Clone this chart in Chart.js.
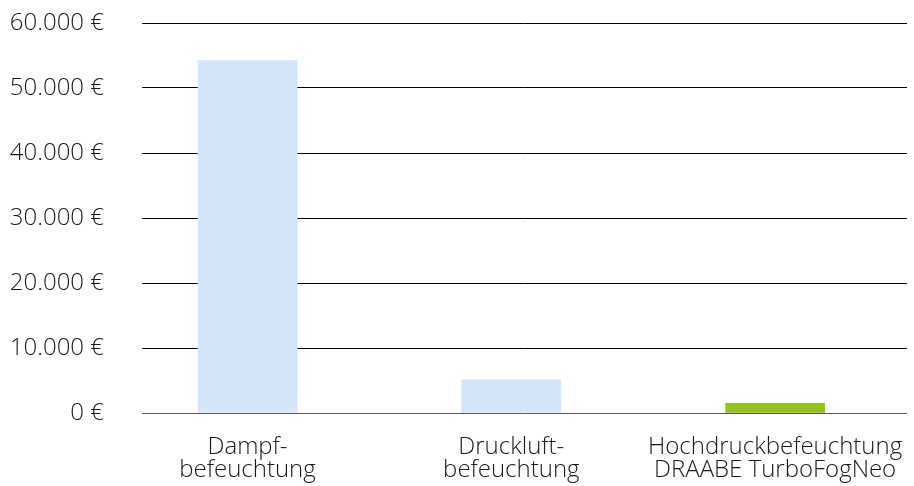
<!DOCTYPE html>
<html>
<head>
<meta charset="utf-8">
<script src="https://cdn.jsdelivr.net/npm/chart.js@4"></script>
<style>
  html, body { margin: 0; padding: 0; background: #fff; }
  #wrap { width: 914px; height: 486px; }
</style>
</head>
<body>
<div id="wrap"><canvas id="mycanvas"></canvas></div>
<script>
// Kosten je Befeuchtungsart
var categories = [
	['Dampf-', 'befeuchtung'],
	['Druckluft-', 'befeuchtung'],
	['Hochdruckbefeuchtung', 'DRAABE TurboFogNeo']
];
var costs = [54200, 5100, 1500];
var yTicks = [0, 10000, 20000, 30000, 40000, 50000, 60000];

var barColors = ['#d4e5f7', '#d4e5f7', '#95c11f'];

var points = [];
for (var i in costs) {
	points.push({ x: Number(i), y: costs[i] });
}

function euro(v) {
	return v.toLocaleString('de-DE') + ' €';
}

var font = { family: "'Open Sans', sans-serif", size: 24, weight: 300, lineHeight: 0.96 };

var ctx = document.getElementById('mycanvas');

new Chart(ctx, {
	type: 'bar',
	data: {
		datasets: [{
			data: points,
			backgroundColor: barColors,
			borderWidth: 0,
			barThickness: 99
		}]
	},
	options: {
		responsive: true,
		maintainAspectRatio: false,
		animation: false,
		layout: { padding: { top: 23, right: 7, bottom: 0, left: 0 } },
		plugins: {
			legend: { display: false },
			tooltip: { enabled: false }
		},
		scales: {
			x: {
				type: 'linear',
				offset: false,
				min: -0.4,
				max: 2.5,
				grid: { display: false },
				border: { display: false },
				afterBuildTicks: function(scale) {
					scale.ticks = categories.map(function(c, i) { return { value: i }; });
				},
				afterFit: function(scale) {
					scale.height = 73;
					scale.paddingLeft = 0;
					scale.paddingRight = 0;
				},
				ticks: {
					autoSkip: false,
					maxRotation: 0,
					padding: 15,
					color: '#1a1a1a',
					font: font,
					callback: function(v) { return categories[v]; }
				}
			},
			y: {
				min: 0,
				max: 60000,
				afterBuildTicks: function(scale) {
					scale.ticks = yTicks.map(function(v) { return { value: v }; });
				},
				afterFit: function(scale) {
					scale.width = 142;
					scale.paddingTop = 0;
					scale.paddingBottom = 0;
				},
				grid: {
					drawTicks: false,
					color: function(c) { return c.tick && c.tick.value === 0 ? '#5a5a5a' : '#000000'; },
					lineWidth: 1
				},
				border: { display: false },
				ticks: {
					padding: 38,
					color: '#1a1a1a',
					font: font,
					callback: function(v) { return euro(v); }
				}
			}
		}
	}
});
</script>
</body>
</html>
